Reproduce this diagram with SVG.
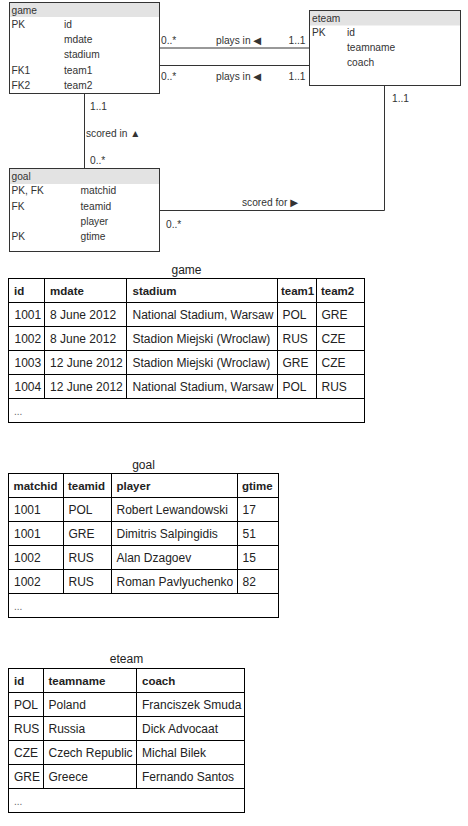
<svg xmlns="http://www.w3.org/2000/svg" width="468" height="826" viewBox="0 0 468 826">
<style>
  .er { font-family: "Liberation Sans", "DejaVu Sans", Arial, sans-serif; font-size: 10.2px; fill: #333; }
  .box { fill: #fff; stroke: #333; stroke-width: 1; }
  .hdr { fill: #e3e3e3; stroke: none; }
  .conn { fill: none; stroke: #333; stroke-width: 1; }
  .tt { font-family: "Liberation Sans", "DejaVu Sans", Arial, sans-serif; font-size: 12px; fill: #222; }
  .th { font-weight: bold; font-size: 11.5px; }
  .title { text-anchor: middle; }
  .grid { fill: #fff; stroke: #000; stroke-width: 1; }
  .gl { stroke: #000; stroke-width: 1; }
  .dots { font-family: "Liberation Sans", "DejaVu Sans", Arial, sans-serif; font-size: 10px; fill: #666; }
</style>

<g id="connectors">
  <line class="conn" x1="159.5" y1="48" x2="309.5" y2="48"/>
  <line class="conn" x1="159.5" y1="65.5" x2="309.5" y2="65.5"/>
  <line class="conn" x1="84.5" y1="93.5" x2="84.5" y2="168.5"/>
  <polyline class="conn" points="159.5,210.5 384.5,210.5 384.5,85.5"/>
  <text class="er" x="161" y="44.3">0..*</text>
  <text class="er" x="216" y="44.3">plays in ◀</text>
  <text class="er" x="305.5" y="44.3" text-anchor="end">1..1</text>
  <text class="er" x="161" y="80.3">0..*</text>
  <text class="er" x="216" y="80.3">plays in ◀</text>
  <text class="er" x="305.5" y="80.3" text-anchor="end">1..1</text>
  <text class="er" x="90" y="110.3">1..1</text>
  <text class="er" x="86" y="137">scored in ▲</text>
  <text class="er" x="90" y="163.6">0..*</text>
  <text class="er" x="392" y="102">1..1</text>
  <text class="er" x="242" y="206">scored for ▶</text>
  <text class="er" x="166" y="227.6">0..*</text>
</g>

<g id="er-game">
  <rect class="box" x="9.5" y="2.5" width="150" height="91"/>
  <rect class="hdr" x="10" y="3" width="149" height="14"/>
  <text class="er" x="11.5" y="14">game</text>
  <text class="er" x="11.5" y="28">PK</text><text class="er" x="64" y="28">id</text>
  <text class="er" x="64" y="43.2">mdate</text>
  <text class="er" x="64" y="58.4">stadium</text>
  <text class="er" x="11.5" y="73.6">FK1</text><text class="er" x="64" y="73.6">team1</text>
  <text class="er" x="11.5" y="88.8">FK2</text><text class="er" x="64" y="88.8">team2</text>
</g>

<g id="er-eteam">
  <rect class="box" x="309.5" y="10.5" width="151" height="75"/>
  <rect class="hdr" x="310" y="11" width="150" height="14.5"/>
  <text class="er" x="312" y="22.3">eteam</text>
  <text class="er" x="312" y="36">PK</text><text class="er" x="347" y="36">id</text>
  <text class="er" x="347" y="51.2">teamname</text>
  <text class="er" x="347" y="66.4">coach</text>
</g>

<g id="er-goal">
  <rect class="box" x="9.5" y="168.5" width="150" height="83"/>
  <rect class="hdr" x="10" y="169" width="149" height="15"/>
  <text class="er" x="11.5" y="180.3">goal</text>
  <text class="er" x="11.5" y="194.3">PK, FK</text><text class="er" x="80.5" y="194.3">matchid</text>
  <text class="er" x="11.5" y="209.5">FK</text><text class="er" x="80.5" y="209.5">teamid</text>
  <text class="er" x="80.5" y="224.7">player</text>
  <text class="er" x="11.5" y="240">PK</text><text class="er" x="80.5" y="240">gtime</text>
</g>

<g id="table-game">
  <text class="tt title" x="186.5" y="274">game</text>
  <rect class="grid" x="8.5" y="278.5" width="356" height="144"/>
  <line class="gl" x1="8.5" y1="302.5" x2="364.5" y2="302.5"/>
  <line class="gl" x1="8.5" y1="326.5" x2="364.5" y2="326.5"/>
  <line class="gl" x1="8.5" y1="350.5" x2="364.5" y2="350.5"/>
  <line class="gl" x1="8.5" y1="374.5" x2="364.5" y2="374.5"/>
  <line class="gl" x1="8.5" y1="398.5" x2="364.5" y2="398.5"/>
  <line class="gl" x1="44.5" y1="278.5" x2="44.5" y2="398.5"/>
  <line class="gl" x1="126.5" y1="278.5" x2="126.5" y2="398.5"/>
  <line class="gl" x1="277.5" y1="278.5" x2="277.5" y2="398.5"/>
  <line class="gl" x1="316.5" y1="278.5" x2="316.5" y2="398.5"/>
  <g class="tt th">
    <text x="14" y="294.8">id</text><text x="50" y="294.8">mdate</text><text x="132.5" y="294.8">stadium</text><text x="281" y="294.8">team1</text><text x="321" y="294.8">team2</text>
  </g>
  <g class="tt">
    <text x="14.5" y="318.8">1001</text><text x="50" y="318.8">8 June 2012</text><text x="132.5" y="318.8">National Stadium, Warsaw</text><text x="282.5" y="318.8">POL</text><text x="321.5" y="318.8">GRE</text>
    <text x="14.5" y="342.8">1002</text><text x="50" y="342.8">8 June 2012</text><text x="132.5" y="342.8">Stadion Miejski (Wroclaw)</text><text x="282.5" y="342.8">RUS</text><text x="321.5" y="342.8">CZE</text>
    <text x="14.5" y="366.8">1003</text><text x="50" y="366.8">12 June 2012</text><text x="132.5" y="366.8">Stadion Miejski (Wroclaw)</text><text x="282.5" y="366.8">GRE</text><text x="321.5" y="366.8">CZE</text>
    <text x="14.5" y="390.8">1004</text><text x="50" y="390.8">12 June 2012</text><text x="132.5" y="390.8">National Stadium, Warsaw</text><text x="282.5" y="390.8">POL</text><text x="321.5" y="390.8">RUS</text>
  </g>
  <text class="dots" x="14" y="414.8">...</text>
</g>

<g id="table-goal">
  <text class="tt title" x="143.5" y="469">goal</text>
  <rect class="grid" x="8.5" y="473.5" width="270" height="144"/>
  <line class="gl" x1="8.5" y1="497.5" x2="278.5" y2="497.5"/>
  <line class="gl" x1="8.5" y1="521.5" x2="278.5" y2="521.5"/>
  <line class="gl" x1="8.5" y1="545.5" x2="278.5" y2="545.5"/>
  <line class="gl" x1="8.5" y1="569.5" x2="278.5" y2="569.5"/>
  <line class="gl" x1="8.5" y1="593.5" x2="278.5" y2="593.5"/>
  <line class="gl" x1="63.5" y1="473.5" x2="63.5" y2="593.5"/>
  <line class="gl" x1="111.5" y1="473.5" x2="111.5" y2="593.5"/>
  <line class="gl" x1="237.5" y1="473.5" x2="237.5" y2="593.5"/>
  <g class="tt th">
    <text x="13.5" y="489.8">matchid</text><text x="68" y="489.8">teamid</text><text x="116.5" y="489.8">player</text><text x="242" y="489.8">gtime</text>
  </g>
  <g class="tt">
    <text x="14" y="513.8">1001</text><text x="68.5" y="513.8">POL</text><text x="116.5" y="513.8">Robert Lewandowski</text><text x="242.5" y="513.8">17</text>
    <text x="14" y="537.8">1001</text><text x="68.5" y="537.8">GRE</text><text x="116.5" y="537.8">Dimitris Salpingidis</text><text x="242.5" y="537.8">51</text>
    <text x="14" y="561.8">1002</text><text x="68.5" y="561.8">RUS</text><text x="116.5" y="561.8">Alan Dzagoev</text><text x="242.5" y="561.8">15</text>
    <text x="14" y="585.8">1002</text><text x="68.5" y="585.8">RUS</text><text x="116.5" y="585.8">Roman Pavlyuchenko</text><text x="242.5" y="585.8">82</text>
  </g>
  <text class="dots" x="14" y="609.8">...</text>
</g>

<g id="table-eteam">
  <text class="tt title" x="126.5" y="662.5">eteam</text>
  <rect class="grid" x="8.5" y="668.5" width="236" height="144"/>
  <line class="gl" x1="8.5" y1="692.5" x2="244.5" y2="692.5"/>
  <line class="gl" x1="8.5" y1="716.5" x2="244.5" y2="716.5"/>
  <line class="gl" x1="8.5" y1="740.5" x2="244.5" y2="740.5"/>
  <line class="gl" x1="8.5" y1="764.5" x2="244.5" y2="764.5"/>
  <line class="gl" x1="8.5" y1="788.5" x2="244.5" y2="788.5"/>
  <line class="gl" x1="43.5" y1="668.5" x2="43.5" y2="788.5"/>
  <line class="gl" x1="136.5" y1="668.5" x2="136.5" y2="788.5"/>
  <g class="tt th">
    <text x="14" y="684.8">id</text><text x="48.5" y="684.8">teamname</text><text x="142" y="684.8">coach</text>
  </g>
  <g class="tt">
    <text x="14" y="708.8">POL</text><text x="48.5" y="708.8">Poland</text><text x="142" y="708.8">Franciszek Smuda</text>
    <text x="14" y="732.8">RUS</text><text x="48.5" y="732.8">Russia</text><text x="142" y="732.8">Dick Advocaat</text>
    <text x="14" y="756.8">CZE</text><text x="48.5" y="756.8">Czech Republic</text><text x="142" y="756.8">Michal Bilek</text>
    <text x="14" y="780.8">GRE</text><text x="48.5" y="780.8">Greece</text><text x="142" y="780.8">Fernando Santos</text>
  </g>
  <text class="dots" x="14" y="804.8">...</text>
</g>
</svg>
